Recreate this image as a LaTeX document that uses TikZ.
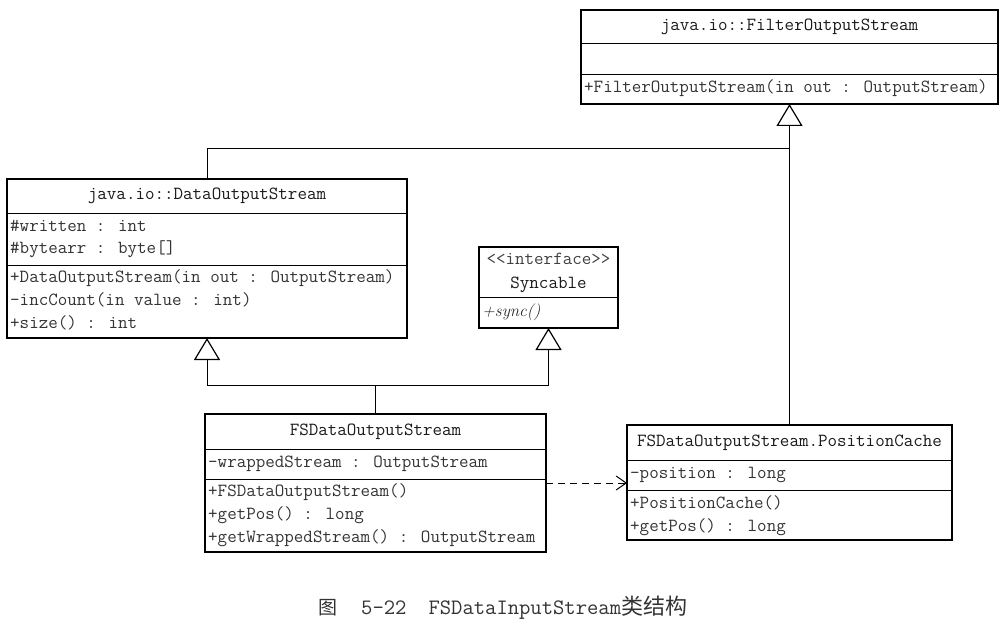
\documentclass[tikz,border=0pt]{standalone}
\usepackage{fontspec}
\newfontfamily\cjkfont{Noto Sans CJK SC}
\usepackage{tikz}
\usetikzlibrary{calc,arrows.meta,positioning}
\tikzset{
    classbox/.style={draw, line width=1.3pt, anchor=north west, inner sep=0pt, outer sep=0pt},
    sepline/.style={line width=1pt},
    classname/.style={font=\fontsize{18.5}{22}\selectfont\ttfamily, text=black!90, inner sep=0pt, text height=12pt, text depth=4pt},
    member/.style={font=\fontsize{18.5}{22}\selectfont\ttfamily, text=black!80, anchor=west, inner sep=0pt, text height=12pt, text depth=4pt},
    inherit/.style={draw, line width=1pt, -{Triangle[open, length=22pt, width=26pt, line width=1.2pt]}},
    assoc/.style={draw, line width=1pt},
    depend/.style={draw, line width=1pt, dash pattern=on 7pt off 5pt, -{Straight Barb[length=10pt, width=14pt]}}
}

\begin{document}
\begin{tikzpicture}[x=1pt, y=-1pt]
    \useasboundingbox (0,0) rectangle (1003,628);

    % Boxes
    \node[classbox, minimum width=417pt, minimum height=94pt] (filter) at (581,10) {};
    \node[classbox, minimum width=400pt, minimum height=159pt] (data) at (7,179) {};
    \node[classbox, minimum width=139pt, minimum height=81pt] (sync) at (479,247) {};
    \node[classbox, minimum width=341pt, minimum height=138pt] (fsdos) at (205,414) {};
    \node[classbox, minimum width=325pt, minimum height=115pt] (cache) at (627,425) {};

    % compartments
    \draw[sepline] (filter.west |- 0,44) -- (filter.east |- 0,44);
    \draw[sepline] (filter.west |- 0,75) -- (filter.east |- 0,75);
    \draw[sepline] (data.west |- 0,214) -- (data.east |- 0,214);
    \draw[sepline] (data.west |- 0,265) -- (data.east |- 0,265);
    \draw[sepline] (sync.west |- 0,297) -- (sync.east |- 0,297);
    \draw[sepline] (fsdos.west |- 0,449) -- (fsdos.east |- 0,449);
    \draw[sepline] (fsdos.west |- 0,479) -- (fsdos.east |- 0,479);
    \draw[sepline] (cache.west |- 0,460) -- (cache.east |- 0,460);
    \draw[sepline] (cache.west |- 0,490) -- (cache.east |- 0,490);

    % Texts
    \node[classname] (filtername) at (789.5,27) {java.io::FilterOutputStream};
    \node[member] (filterm1) at (584,89) {+FilterOutputStream(in out : OutputStream)};

    \node[classname] (dataname) at (207,196) {java.io::DataOutputStream};
    \node[member] (dataa1) at (10,228) {\#written : int};
    \node[member] (dataa2) at (10,250) {\#bytearr : byte[]};
    \node[member] (datam1) at (10,278) {+DataOutputStream(in out : OutputStream)};
    \node[member] (datam2) at (10,301) {-incCount(in value : int)};
    \node[member] (datam3) at (10,324) {+size() : int};

    \node[classname, text=black!75] (syncstereo) at (548.5,261) {<{}<interface>{}>};
    \node[classname] (syncname) at (548.5,284) {Syncable};
    \node[member, font=\fontsize{17}{20}\selectfont\rmfamily\itshape, text=black!85] (syncm1) at (482,312) {+sync()};

    \node[classname] (fsdosname) at (375.5,431) {FSDataOutputStream};
    \node[member] (fsdosa1) at (208,463) {-wrappedStream : OutputStream};
    \node[member] (fsdosm1) at (208,492) {+FSDataOutputStream()};
    \node[member] (fsdosm2) at (208,515) {+getPos() : long};
    \node[member] (fsdosm3) at (208,538) {+getWrappedStream() : OutputStream};

    \node[classname] (cachename) at (789.5,442) {FSDataOutputStream.PositionCache};
    \node[member] (cachea1) at (630,474) {-position : long};
    \node[member] (cachem1) at (630,504) {+PositionCache()};
    \node[member] (cachem2) at (630,527) {+getPos() : long};

    % edges
    \coordinate (upjoin) at (789.5,149);
    \coordinate (lowjoin) at (375.5,385);
    \draw[inherit] (cache.north) -- (filter.south);
    \draw[assoc] (data.north) |- (upjoin);
    \draw[assoc] (fsdos.north) -- (lowjoin);
    \draw[inherit] (lowjoin) -| (data.south);
    \draw[inherit] (lowjoin) -| (sync.south);
    \draw[depend] (fsdos.east) -- (cache.west |- fsdos.east);

    % caption
    \node[anchor=west, inner sep=0pt, text=black!80, font=\fontsize{22}{26}\selectfont\ttfamily] (caption) at (318,608)
        {{\cjkfont\fontsize{19}{24}\selectfont 图}\hspace{24pt}5-22\hspace{22pt}FSDataInputStream{\cjkfont\fontsize{22}{26}\selectfont 类结构}};
\end{tikzpicture}
\end{document}
